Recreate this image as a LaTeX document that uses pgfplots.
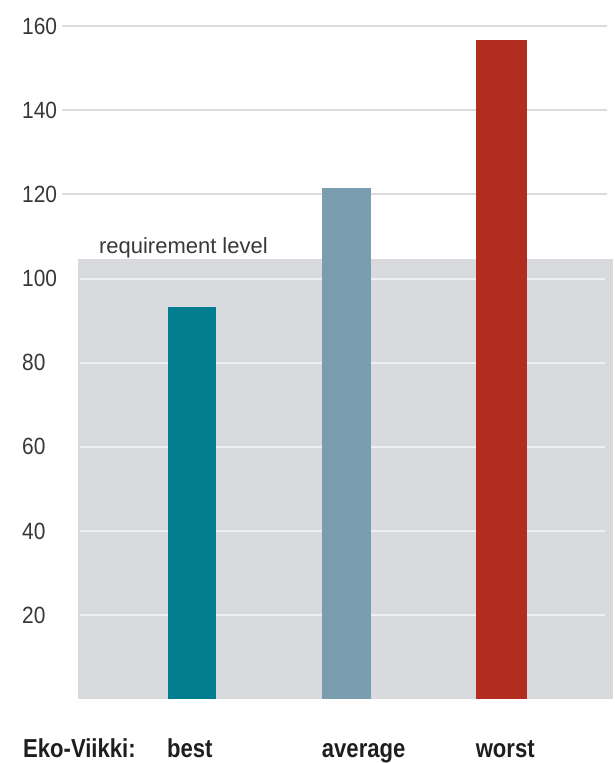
\documentclass[border=0pt]{standalone}
\usepackage{pgfplots}
\pgfplotsset{compat=1.18}
\usepackage{fontspec}
\setmainfont{Liberation Sans}
\newfontfamily\tickfont[FakeStretch=0.89]{Liberation Sans}
\newfontfamily\labfont[FakeStretch=0.85]{Liberation Sans}
\definecolor{cbest}{HTML}{007E8F}
\definecolor{cavg}{HTML}{7A9DB0}
\definecolor{cworst}{HTML}{B32D1F}
\definecolor{reqgray}{HTML}{D9DADD}
\definecolor{gridgray}{HTML}{DCDCDC}
\definecolor{gridwhite}{HTML}{EEEFF0}
\definecolor{tickgray}{HTML}{383838}
\definecolor{labblack}{HTML}{1E1E1E}
\begin{document}
\begin{tikzpicture}
\begin{axis}[
  scale only axis, width=552pt, height=674pt,
  xmin=0, xmax=552, ymin=0, ymax=160,
  axis line style={draw=none},
  xtick=\empty,
  ytick={20,40,...,160},
  major tick length=0pt,
  /pgf/number format/assume math mode=true,
  yticklabel style={anchor=west, inner sep=0pt, xshift=-40pt, font=\tickfont\fontsize{23.5}{24}\selectfont, text=tickgray},
  clip=false,
]
% requirement level background
\addplot[fill=reqgray, draw=none] coordinates {(16,104.7) (552,104.7)} \closedcycle;
% grid lines above the requirement level
\pgfplotsinvokeforeach{120,140,160}{
  \addplot[gridgray, line width=2.2pt] coordinates {(0,#1) (546,#1)};
}
% grid lines inside the requirement region
\pgfplotsinvokeforeach{20,40,60,80,100}{
  \addplot[gridwhite, line width=2pt] coordinates {(18,#1) (544,#1)};
}
% bars
\addplot[ybar, bar shift=0pt, bar width=48, fill=cbest, draw=none] coordinates {(130,93.3)};
\addplot[ybar, bar shift=0pt, bar width=49, fill=cavg, draw=none] coordinates {(284.5,121.5)};
\addplot[ybar, bar shift=0pt, bar width=51, fill=cworst, draw=none] coordinates {(439.5,156.7)};
% texts
\node[anchor=base west, inner sep=0pt, font=\fontsize{22}{24}\selectfont, text=tickgray] at (axis cs:37,106) {requirement level};
\node[anchor=base west, inner sep=0pt, font=\labfont\bfseries\fontsize{26}{28}\selectfont, text=labblack] at (axis cs:-39,-13.8) {Eko-Viikki:};
\node[anchor=base west, inner sep=0pt, font=\labfont\bfseries\fontsize{26}{28}\selectfont, text=labblack] at (axis cs:105,-13.8) {best};
\node[anchor=base west, inner sep=0pt, font=\labfont\bfseries\fontsize{26}{28}\selectfont, text=labblack] at (axis cs:260,-13.8) {average};
\node[anchor=base west, inner sep=0pt, font=\labfont\bfseries\fontsize{26}{28}\selectfont, text=labblack] at (axis cs:414,-13.8) {worst};
\end{axis}
\path ([shift={(-62pt,-63pt)}]current axis.south west) rectangle ([shift={(1pt,26pt)}]current axis.north east);
\end{tikzpicture}
\end{document}
